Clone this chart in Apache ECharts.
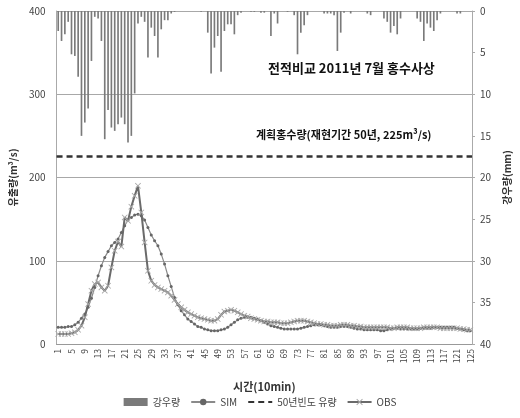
<!DOCTYPE html>
<html>
<head>
<meta charset="utf-8">
<script src="https://cdn.jsdelivr.net/npm/echarts@6/dist/echarts.min.js"></script>
<style>
  html, body { margin: 0; padding: 0; background: #fff; }
  #chart { width: 520px; height: 418px; }
</style>
</head>
<body>
<div id="chart"></div>
<script>
// 시간 축 (10분 단위, 1 ~ 125)
const categories = Array.from({ length: 125 }, (_, i) => String(i + 1));

// 강우량 (mm)
const rain = [
  2.4, 3.6, 2.8, 1.3, 5.2, 5.4, 7.9, 15.0, 13.4, 11.7,
  6.0, 0.7, 0.9, 3.6, 15.4, 11.9, 14.0, 14.4, 13.6, 12.8,
  13.6, 15.8, 15.0, 9.9, 1.5, 0.7, 1.3, 5.6, 2.0, 3.0,
  5.6, 2.2, 1.1, 1.1, 0.3, 0.1, 0, 0, 0, 0,
  0, 0, 0, 0.1, 0, 2.6, 7.5, 4.4, 3.0, 7.3,
  2.4, 1.6, 1.6, 2.8, 0.5, 0.2, 0, 0, 0.1, 0.1,
  0, 0.2, 0.2, 0, 3.0, 0.3, 1.5, 0, 0, 0.1,
  0, 0.5, 5.2, 2.6, 1.7, 0.5, 0, 0, 0, 0,
  0.3, 0.3, 0.3, 0.5, 4.8, 2.6, 0.2, 0, 0.3, 0,
  0, 0, 0, 0.3, 0.5, 0, 0, 0, 0.9, 1.3,
  2.6, 1.8, 2.8, 0.9, 0, 0, 0, 0, 0.9, 1.3,
  3.6, 1.5, 2.0, 2.4, 1.1, 0.3, 0, 0, 0, 0,
  0.3, 0.3, 0, 0, 0
];

// 모의 유량 SIM (m3/s)
const sim = [
  20, 20, 20, 21, 21, 23, 26, 31, 36, 44,
  55, 68, 82, 94, 104, 111, 118, 122, 126, 134,
  142, 149, 152, 155, 156, 154, 149, 140, 131, 124,
  118, 108, 96, 82, 69, 56, 47, 40, 35, 30,
  27, 24, 21, 20, 18, 17, 16, 16, 16, 17,
  18, 20, 23, 26, 29, 31, 32, 32, 32, 31,
  30, 28, 26, 24, 22, 21, 20, 19, 18, 18,
  18, 18, 18, 19, 20, 21, 22, 23, 23, 23,
  22, 21, 20, 20, 20, 21, 21, 21, 20, 19,
  18, 18, 17, 17, 17, 17, 17, 16, 16, 17,
  18, 19, 19, 18, 18, 18, 18, 18, 18, 19,
  19, 19, 19, 20, 20, 20, 20, 20, 20, 20,
  19, 18, 17, 16, 16
];

// 관측 유량 OBS (m3/s)
const obs = [
  12, 12, 12, 12, 13, 14, 17, 22, 32, 48,
  64, 72, 74, 68, 64, 70, 92, 112, 123, 117,
  152, 148, 165, 178, 190, 158, 122, 88, 76, 71,
  68, 66, 64, 62, 58, 53, 48, 44, 41, 38,
  36, 34, 32, 31, 30, 29, 28, 28, 30, 35,
  39, 40, 41, 40, 38, 36, 34, 33, 31, 30,
  29, 28, 27, 27, 26, 26, 26, 25, 25, 25,
  26, 27, 28, 28, 28, 27, 26, 25, 24, 24,
  23, 23, 22, 22, 22, 23, 23, 23, 22, 22,
  21, 21, 20, 20, 20, 20, 20, 20, 20, 20,
  19, 19, 20, 20, 20, 20, 19, 19, 19, 19,
  20, 20, 20, 20, 20, 19, 19, 19, 19, 19,
  19, 18, 18, 17, 17
];

// 계획홍수량 (재현기간 50년)
const designFlow = 225;

const cross = 'path://M0,1L1,0L5,4L9,0L10,1L6,5L10,9L9,10L5,6L1,10L0,9L4,5Z';
const font = "'Noto Sans CJK KR', 'Noto Sans', sans-serif";

const myChart = echarts.init(document.getElementById('chart'));
const option = {
  animation: false,
  textStyle: { fontFamily: font },
  grid: { left: 48, right: 36, top: 11, bottom: 74 },
  legend: {
    bottom: 6,
    left: 'center',
    itemGap: 10,
    itemWidth: 24,
    itemHeight: 8,
    textStyle: { fontSize: 10, color: '#444', fontFamily: font },
    data: [
      { name: '강우량', icon: 'rect' },
      'SIM',
      { name: '50년빈도 유량', itemStyle: { opacity: 0 } },
      'OBS'
    ]
  },
  graphic: [
    {
      type: 'text', left: 268, top: 62,
      style: { text: '전적비교 2011년 7월 홍수사상', font: 'bold 13px ' + font, fill: '#111' }
    },
    {
      type: 'text', left: 256, top: 129,
      style: { text: '계획홍수량(재현기간 50년, 225m³/s)', font: 'bold 11px ' + font, fill: '#111' }
    }
  ],
  xAxis: {
    type: 'category',
    data: categories,
    name: '시간(10min)',
    nameLocation: 'middle',
    nameGap: 37,
    nameTextStyle: { fontSize: 11, fontWeight: 'bold', color: '#333' },
    axisLine: { lineStyle: { color: '#999' } },
    axisTick: { interval: 0, length: 3, lineStyle: { color: '#999' } },
    axisLabel: { interval: 3, rotate: 90, fontSize: 8.5, color: '#444', margin: 5 }
  },
  yAxis: [
    {
      type: 'value',
      min: 0, max: 400, interval: 100,
      name: '유출량(m³/s)',
      nameLocation: 'middle',
      nameRotate: 90,
      nameGap: 34,
      nameTextStyle: { fontSize: 10, fontWeight: 'bold', color: '#333' },
      axisLine: { show: true, lineStyle: { color: '#aaa' } },
      axisTick: { show: false },
      axisLabel: { fontSize: 10, color: '#444', margin: 11 },
      splitLine: { lineStyle: { color: '#a8a8a8', width: 1 } }
    },
    {
      type: 'value',
      min: 0, max: 40, interval: 5,
      inverse: true,
      name: '강우량(mm)',
      nameLocation: 'middle',
      nameRotate: 90,
      nameGap: 28,
      nameTextStyle: { fontSize: 10, fontWeight: 'bold', color: '#333' },
      axisLine: { show: true, lineStyle: { color: '#aaa' } },
      axisTick: { show: true, length: 3, lineStyle: { color: '#aaa' } },
      axisLabel: { fontSize: 10, color: '#444', margin: 8 },
      splitLine: { show: false }
    }
  ],
  series: [
    {
      name: '강우량',
      type: 'bar',
      yAxisIndex: 1,
      barWidth: '50%',
      itemStyle: { color: '#7a7a7a' },
      data: rain
    },
    {
      name: '50년빈도 유량',
      type: 'line',
      data: [],
      symbol: 'none',
      lineStyle: { color: '#333', width: 2.5, type: [6, 4] },
      itemStyle: { color: '#333' },
      markLine: {
        silent: true,
        symbol: 'none',
        label: { show: false },
        lineStyle: { color: '#333', width: 2.5, type: [6, 4] },
        data: [{ yAxis: designFlow }]
      }
    },
    {
      name: 'SIM',
      type: 'line',
      data: sim,
      symbol: 'circle',
      symbolSize: 3,
      showAllSymbol: true,
      lineStyle: { color: '#8a8a8a', width: 1.2 },
      itemStyle: { color: '#666' }
    },
    {
      name: 'OBS',
      type: 'line',
      data: obs,
      symbol: cross,
      symbolSize: 6,
      showAllSymbol: true,
      lineStyle: { color: '#6a6a6a', width: 2 },
      itemStyle: { color: '#a8a8a8' }
    }
  ]
};
myChart.setOption(option);
</script>
</body>
</html>
